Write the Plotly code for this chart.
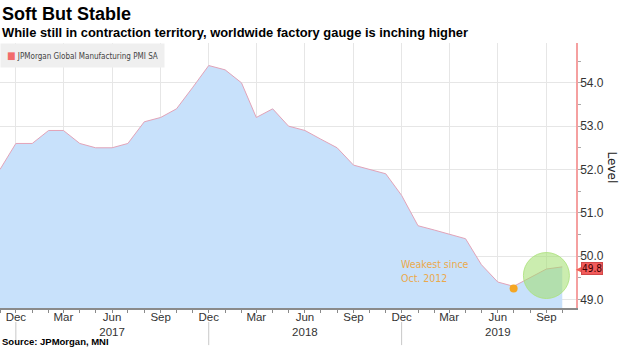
import plotly.graph_objects as go
import pandas as pd

# ---- data ----
dates = pd.date_range("2016-11-01", "2019-10-01", freq="MS")
pmi_values = [52.0, 52.6, 52.6, 52.9, 52.9, 52.6, 52.5, 52.5, 52.6, 53.1, 53.2, 53.4,
              53.9, 54.4, 54.3, 54.0, 53.2, 53.4, 53.0, 52.9, 52.7, 52.5, 52.1, 52.0,
              51.9, 51.4, 50.7, 50.6, 50.5, 50.4, 49.8, 49.4, 49.3, 49.5, 49.7, 49.75]
series_name = "JPMorgan Global Manufacturing PMI SA"
low_date = "2019-07-01"
low_value = 49.25
highlight_date = "2019-09-01"
highlight_value = 49.55
tick_dates = pd.date_range("2016-12-01", "2019-09-01", freq="3MS")
tick_labels = ["Dec", "Mar", "Jun<br>2017", "Sep",
               "Dec", "Mar", "Jun<br>2018", "Sep",
               "Dec", "Mar", "Jun<br>2019", "Sep"]
year_divider_dates = ["2016-12-01", "2017-12-01", "2018-12-01"]
y_ticks = [49.0, 50.0, 51.0, 52.0, 53.0, 54.0]

TICK_FONT = "Liberation Sans Narrow, Arial Narrow, Liberation Sans, sans-serif"
BOLD_FONT = "Liberation Sans, Arial, sans-serif"
COND_FONT = "DejaVu Sans Condensed, DejaVu Sans, sans-serif"

fig = go.Figure()

fig.add_trace(go.Scatter(
    x=dates, y=pmi_values, mode="lines", fill="tozeroy",
    fillcolor="#c8e1fb", line=dict(color="#e2a3b8", width=1),
    showlegend=False, hoverinfo="skip"))

# highlight circle
fig.add_trace(go.Scatter(
    x=[highlight_date], y=[highlight_value], mode="markers", showlegend=False,
    marker=dict(size=46, color="rgba(160,222,110,0.55)",
                line=dict(color="rgba(170,225,120,0.8)", width=1))))

# low point dot
fig.add_trace(go.Scatter(
    x=[low_date], y=[low_value], mode="markers", showlegend=False,
    marker=dict(size=8, color="#f5a623")))

last_label = f"{pmi_values[-1]:.1f}"

annotations = [
    dict(text="<b>Soft But Stable</b>", xref="paper", yref="paper", x=0, y=1.109,
         xanchor="left", yanchor="middle", showarrow=False, xshift=0,
         font=dict(family=BOLD_FONT, size=18, color="#000")),
    dict(text="<b>While still in contraction territory, worldwide factory gauge is inching higher</b>",
         xref="paper", yref="paper", x=0, y=1.0415, xanchor="left", yanchor="middle",
         showarrow=False, xshift=0, font=dict(family=BOLD_FONT, size=12.9, color="#000")),
    dict(text="<b>Source: JPMorgan, MNI</b>", xref="paper", yref="paper", x=0, y=-0.128,
         xanchor="left", yanchor="middle", showarrow=False, xshift=0,
         font=dict(family=BOLD_FONT, size=9.5, color="#000")),
    # legend box
    dict(text='<span style="color:#f26b6b;font-size:10px">■</span> ' + series_name,
         xref="paper", yref="paper", x=0, y=1, xanchor="left", yanchor="top",
         showarrow=False, bgcolor="#efefef", borderpad=6, align="left",
         font=dict(family=COND_FONT, size=8, color="#444")),
    dict(text="Level", xref="paper", yref="paper", x=1, y=0.53, xanchor="center",
         yanchor="middle", showarrow=False, textangle=90, xshift=36,
         font=dict(family="DejaVu Sans, sans-serif", size=12, color="#222")),
    dict(text="Weakest since<br>Oct. 2012", xref="x", yref="y", x="2018-12-01", y=49.99,
         xanchor="left", yanchor="top", align="left", showarrow=False, xshift=-3,
         font=dict(family=COND_FONT, size=10.5, color="#eba94c")),
    dict(text="◀", xref="paper", yref="y", x=1, y=pmi_values[-1],
         xanchor="left", yanchor="middle", showarrow=False, xshift=-2, yshift=-1.5,
         font=dict(size=9, color="#f25b5b")),
    dict(text=last_label, xref="paper", yref="y", x=1, y=pmi_values[-1],
         xanchor="left", yanchor="middle", showarrow=False, xshift=5, yshift=-1.5,
         bgcolor="#f25b5b", bordercolor="#d04848", borderwidth=1, borderpad=0,
         font=dict(family=COND_FONT, size=10, color="#3a0000")),
]

shapes = [dict(type="line", xref="x", yref="paper", x0=d, x1=d, y0=-0.053, y1=-0.14,
               line=dict(color="#c8c8c8", width=1)) for d in year_divider_dates]

fig.update_layout(
    width=620, height=348,
    margin=dict(l=0, r=44, t=43, b=40),
    paper_bgcolor="white", plot_bgcolor="white",
    annotations=annotations, shapes=shapes, showlegend=False,
    xaxis=dict(type="date", range=["2016-11-01", "2019-10-27"],
               tickvals=tick_dates, ticktext=tick_labels,
               showgrid=True, gridcolor="#e6e6e6", gridwidth=1,
               showline=True, linecolor="#8a8a8a", linewidth=1.5,
               ticks="outside", ticklen=3, tickcolor="#8a8a8a",
               ticklabelstandoff=-6,
               minor=dict(dtick="M1", ticks="outside", ticklen=3, tickcolor="#8a8a8a", showgrid=False),
               tickfont=dict(family=TICK_FONT, size=11.5, color="#333"),
               zeroline=False, fixedrange=True),
    yaxis=dict(side="right", range=[48.8, 54.92], tickvals=y_ticks,
               ticktext=[f"{v:.1f}" for v in y_ticks],
               showgrid=True, gridcolor="#e6e6e6", gridwidth=1,
               showline=True, linecolor="#f5a0a0", linewidth=1.5,
               ticks="outside", ticklen=4, tickcolor="#aaaaaa",
               ticklabelstandoff=-4,
               minor=dict(dtick=0.5, tick0=49.0, ticks="outside", ticklen=3, tickcolor="#aaaaaa", showgrid=False),
               tickfont=dict(family=TICK_FONT, size=12, color="#333"),
               zeroline=False, fixedrange=True),
)

fig.write_html("out.html")
